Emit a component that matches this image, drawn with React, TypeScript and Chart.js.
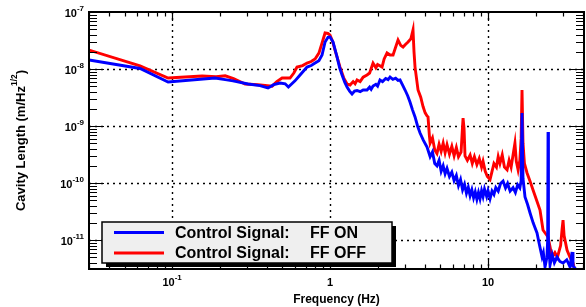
import React, { useEffect, useRef } from 'react';
import { Chart, registerables } from 'chart.js';

Chart.register(...registerables);

// ---- Data (frequency in Hz, amplitude in m/Hz^1/2) ----
const ffOnPoints: number[][] = [
  [0.0298, 1.44e-8], [0.0627, 1.02e-8], [0.0944, 5.9e-9], [0.187, 6.95e-9], [0.217, 6.5e-9],
  [0.243, 6.2e-9], [0.303, 5.45e-9], [0.36, 5.1e-9], [0.405, 4.64e-9], [0.44, 5.3e-9],
  [0.483, 5.68e-9], [0.52, 5.5e-9], [0.545, 4.83e-9], [0.6, 6.2e-9], [0.646, 7.85e-9],
  [0.715, 1.08e-8], [0.76, 1.15e-8], [0.804, 1.27e-8], [0.85, 1.4e-8], [0.89, 1.76e-8],
  [0.93, 2.98e-8], [0.97, 3.6e-8], [1.0, 3.64e-8], [1.045, 2.98e-8], [1.107, 1.63e-8],
  [1.15, 1.05e-8], [1.191, 7.85e-9], [1.24, 5.8e-9], [1.281, 4.83e-9], [1.33, 4.1e-9],
  [1.378, 3.64e-9], [1.43, 4.1e-9], [1.482, 4.2e-9], [1.55, 4.0e-9], [1.62, 4.3e-9],
  [1.714, 4.28e-9], [1.78, 4.8e-9], [1.82, 4.4e-9], [1.871, 5.03e-9], [1.95, 5.4e-9],
  [2.0, 5.0e-9], [2.071, 6.41e-9], [2.15, 6.0e-9], [2.25, 6.8e-9], [2.33, 6.5e-9],
  [2.398, 7.24e-9], [2.5, 6.6e-9], [2.6, 6.9e-9], [2.694, 6.3e-9], [2.773, 6.41e-9],
  [2.88, 5.2e-9], [2.984, 4.28e-9], [3.1, 3.4e-9], [3.206, 2.64e-9], [3.33, 1.9e-9],
  [3.451, 1.44e-9], [3.58, 1.0e-9], [3.713, 7.54e-10], [3.9, 5.6e-10], [4.11, 4.28e-10],
  [4.3, 2.9e-10], [4.45, 3.5e-10], [4.6, 2.2e-10], [4.75, 2.0e-10], [4.9, 2.5e-10],
  [5.05, 1.6e-10], [5.2, 2.0e-10], [5.35, 1.45e-10], [5.5, 1.8e-10], [5.7, 1.3e-10],
  [5.9, 1.55e-10], [6.1, 1.1e-10], [6.3, 1.35e-10], [6.5, 9.0e-11], [6.7, 1.15e-10],
  [6.9, 7.6e-11], [7.1, 9.5e-11], [7.3, 6.6e-11], [7.5, 8.4e-11], [7.7, 6.0e-11],
  [7.9, 7.6e-11], [8.1, 5.5e-11], [8.3, 7.0e-11], [8.5, 5.2e-11], [8.7, 6.8e-11],
  [8.9, 5.3e-11], [9.1, 7.3e-11], [9.3, 5.8e-11], [9.5, 7.8e-11], [9.8, 5.8e-11],
  [10.0, 7.3e-11], [10.3, 5.3e-11], [10.6, 7.2e-11], [10.9, 6.3e-11], [11.2, 8.3e-11],
  [11.6, 7.2e-11], [12.0, 9.8e-11], [12.45, 1.08e-10], [12.9, 8.2e-11], [13.3, 9.8e-11],
  [13.8, 7.2e-11], [14.4, 8.3e-11], [14.9, 6.8e-11], [15.4, 9.3e-11], [15.9, 8.2e-11],
  [16.2, 1.1e-10], [16.41, 1.69e-9], [16.65, 1.2e-10], [17.14, 5.68e-11], [17.8, 4.2e-11],
  [18.45, 2.98e-11], [19.3, 2.0e-11], [20.42, 1.33e-11], [21.2, 8e-12], [21.98, 5.03e-12],
  [22.4, 6e-12], [22.95, 3.36e-12], [23.6, 5e-12], [23.85, 1e-11], [23.98, 7.85e-10],
  [24.12, 1e-11], [24.68, 3.64e-12], [25.5, 5.5e-12], [26.3, 4e-12], [27.33, 5.03e-12],
  [28.5, 4.2e-12], [29.84, 3.94e-12], [31.5, 4.5e-12], [33.04, 3.36e-12], [33.7, 5e-12],
  [34.04, 6.16e-12], [34.5, 3.5e-12], [35.55, 3.2e-12], [36.5, 2.5e-12],
];

const ffOffPoints: number[][] = [
  [0.0298, 2.15e-8], [0.0627, 1.13e-8], [0.0944, 6.95e-9], [0.155, 7.54e-9], [0.19, 7.3e-9],
  [0.217, 7.6e-9], [0.245, 6.8e-9], [0.29, 5.45e-9], [0.35, 5.3e-9], [0.43, 5.0e-9],
  [0.46, 6.0e-9], [0.497, 6.95e-9], [0.558, 6.95e-9], [0.59, 8.5e-9], [0.618, 1.08e-8],
  [0.67, 1.15e-8], [0.715, 1.27e-8], [0.76, 1.35e-8], [0.804, 1.5e-8], [0.85, 1.9e-8],
  [0.89, 2.86e-8], [0.93, 4.28e-8], [0.97, 4.2e-8], [1.0, 3.94e-8], [1.04, 3.0e-8],
  [1.075, 2.15e-8], [1.157, 1.08e-8], [1.22, 7.0e-9], [1.281, 5.45e-9], [1.339, 5.24e-9],
  [1.4, 6.0e-9], [1.44, 5.5e-9], [1.482, 6.41e-9], [1.55, 6.0e-9], [1.62, 7.2e-9],
  [1.714, 7.85e-9], [1.78, 8.5e-9], [1.871, 1.27e-8], [1.95, 1.05e-8], [2.0, 1.2e-8],
  [2.134, 1.08e-8], [2.2, 1.5e-8], [2.295, 1.91e-8], [2.398, 1.76e-8], [2.505, 1.76e-8],
  [2.6, 2.4e-8], [2.694, 3.23e-8], [2.8, 2.6e-8], [2.897, 2.43e-8], [3.0, 2.7e-8],
  [3.117, 2.98e-8], [3.25, 3.4e-8], [3.351, 4.83e-8], [3.4, 2.0e-8], [3.451, 1.08e-8],
  [3.605, 4.28e-9], [3.75, 3.2e-9], [3.878, 2.2e-9], [4.0, 1.7e-9], [4.11, 1.5e-9],
  [4.17, 1.44e-9], [4.25, 7e-10], [4.3, 5.0e-10], [4.45, 6.2e-10], [4.6, 3.8e-10],
  [4.75, 3.3e-10], [4.9, 4.8e-10], [5.05, 3.6e-10], [5.2, 5.0e-10], [5.35, 3.4e-10],
  [5.5, 4.7e-10], [5.7, 3.2e-10], [5.9, 4.4e-10], [6.1, 3.0e-10], [6.3, 4.2e-10],
  [6.5, 2.9e-10], [6.75, 3.5e-10], [6.9, 1.0e-9], [6.95, 1.38e-9], [7.05, 9e-10],
  [7.15, 3.0e-10], [7.4, 2.5e-10], [7.7, 3.1e-10], [7.95, 2.2e-10], [8.2, 2.9e-10],
  [8.5, 2.1e-10], [8.8, 2.7e-10], [9.1, 1.9e-10], [9.3, 2.4e-10], [9.6, 1.6e-10],
  [9.9, 1.3e-10], [10.3, 1.15e-10], [10.6, 1.6e-10], [10.9, 2.2e-10], [11.3, 1.9e-10],
  [11.6, 2.9e-10], [11.9, 2.2e-10], [12.3, 3.1e-10], [12.7, 1.9e-10], [13.2, 1.7e-10],
  [13.6, 2.5e-10], [14.0, 1.9e-10], [14.4, 3.1e-10], [14.8, 5.0e-10], [15.1, 2.4e-10],
  [15.5, 1.7e-10], [15.9, 2.5e-10], [16.2, 6e-10], [16.41, 4.28e-9], [16.65, 5e-10],
  [17.0, 2.2e-10], [17.66, 1.5e-10], [18.4, 1.1e-10], [19.27, 7.54e-11], [20.3, 5e-11],
  [21.33, 3.36e-11], [22.29, 1.5e-11], [23.1, 1.3e-11], [23.98, 1.13e-11], [24.6, 8e-12],
  [25.42, 5.03e-12], [26.5, 6e-12], [27.5, 5e-12], [28.8, 8e-12], [29.4, 1.5e-11],
  [29.84, 2.24e-11], [30.3, 1.2e-11], [31.62, 6.68e-12], [33.0, 5e-12], [34.53, 3.94e-12],
  [35.5, 2.8e-12],
];

const seriesLabels = ['Control Signal:', 'Control Signal:'];
const seriesTags = ['FF ON', 'FF OFF'];
const seriesColors = ['#0000ff', '#ff0000'];

const X_MIN = 0.0298;
const X_MAX = 40.5;
const Y_MIN = 3.1e-12;
const Y_MAX = 1e-7;

// decade labels: [value, base, exponent]
const xTickLabels: [number, string, string][] = [[0.1, '10', '-1'], [1, '1', ''], [10, '10', '']];
const yTickExps = [-7, -8, -9, -10, -11];
const xGridValues = [0.1, 1, 10];
const yGridValues = [1e-8, 1e-9, 1e-10, 1e-11];

const xTitle = 'Frequency (Hz)';
const yTitleMain = 'Cavity Length (m/Hz';
const yTitleSup = '1/2';
const yTitleEnd = ')';

const FONT_FAMILY = '"Liberation Sans", Arial, Helvetica, sans-serif';
const BASE_FONT = `bold 11px ${FONT_FAMILY}`;
const EXP_FONT = `bold 8px ${FONT_FAMILY}`;

function drawPower(ctx: CanvasRenderingContext2D, base: string, exp: string, x: number, y: number, align: 'right' | 'center') {
  ctx.font = BASE_FONT;
  const wb = ctx.measureText(base).width;
  ctx.font = EXP_FONT;
  const we = exp ? ctx.measureText(exp).width : 0;
  const total = wb + we;
  const x0 = align === 'right' ? x - total : x - total / 2;
  ctx.textAlign = 'left';
  ctx.textBaseline = 'middle';
  ctx.font = BASE_FONT;
  ctx.fillText(base, x0, y);
  if (exp) {
    ctx.font = EXP_FONT;
    ctx.fillText(exp, x0 + wb, y - 5);
  }
}

const rootStylePlugin = {
  id: 'rootStyle',
  beforeDatasetsDraw(chart: any) {
    const { ctx, chartArea: a, scales } = chart;
    const xs = scales.x, ys = scales.y;
    ctx.save();
    ctx.strokeStyle = '#000';
    ctx.lineWidth = 1.4;
    ctx.setLineDash([2, 4]);
    for (const v of xGridValues) {
      const px = Math.round(xs.getPixelForValue(v)) + 0.5;
      ctx.beginPath();
      ctx.moveTo(px, a.top);
      ctx.lineTo(px, a.bottom);
      ctx.stroke();
    }
    for (const v of yGridValues) {
      const py = Math.round(ys.getPixelForValue(v)) + 0.5;
      ctx.beginPath();
      ctx.moveTo(a.left, py);
      ctx.lineTo(a.right, py);
      ctx.stroke();
    }
    ctx.restore();
  },
  afterDatasetsDraw(chart: any) {
    const { ctx, chartArea: a, scales } = chart;
    const xs = scales.x, ys = scales.y;
    ctx.save();
    ctx.setLineDash([]);
    ctx.strokeStyle = '#000';
    ctx.fillStyle = '#000';

    // ticks
    ctx.lineWidth = 1.2;
    ctx.beginPath();
    for (let e = -3; e <= 2; e++) {
      for (let m = 1; m <= 9; m++) {
        const v = m * Math.pow(10, e);
        if (v < X_MIN || v > X_MAX) continue;
        const px = Math.round(xs.getPixelForValue(v)) + 0.5;
        const len = m === 1 ? 9 : 4.5;
        ctx.moveTo(px, a.bottom);
        ctx.lineTo(px, a.bottom - len);
        ctx.moveTo(px, a.top);
        ctx.lineTo(px, a.top + len);
      }
    }
    for (let e = -13; e <= -7; e++) {
      for (let m = 1; m <= 9; m++) {
        const v = m * Math.pow(10, e);
        if (v < Y_MIN || v > Y_MAX * 1.0001) continue;
        const py = Math.round(ys.getPixelForValue(v)) + 0.5;
        const len = m === 1 ? 15 : 8;
        ctx.moveTo(a.left, py);
        ctx.lineTo(a.left + len, py);
        ctx.moveTo(a.right, py);
        ctx.lineTo(a.right - len, py);
      }
    }
    ctx.stroke();

    // frame
    ctx.lineWidth = 2;
    ctx.strokeRect(a.left, a.top, a.right - a.left, a.bottom - a.top);

    // tick labels
    for (const e of yTickExps) {
      const py = ys.getPixelForValue(Math.pow(10, e));
      drawPower(ctx, '10', String(e), a.left - 5, py + 2, 'right');
    }
    for (const [v, base, exp] of xTickLabels) {
      const px = xs.getPixelForValue(v);
      drawPower(ctx, base, exp, px, a.bottom + 14, 'center');
    }

    // x title
    ctx.font = `bold 12px ${FONT_FAMILY}`;
    ctx.textAlign = 'center';
    ctx.textBaseline = 'middle';
    ctx.fillText(xTitle, (a.left + a.right) / 2, a.bottom + 31);

    // y title
    ctx.save();
    ctx.translate(21, (a.top + a.bottom) / 2 + 0);
    ctx.rotate(-Math.PI / 2);
    const mainFont = `bold 13px ${FONT_FAMILY}`;
    const supFont = `bold 8.5px ${FONT_FAMILY}`;
    ctx.font = mainFont;
    const w1 = ctx.measureText(yTitleMain).width;
    const w3 = ctx.measureText(yTitleEnd).width;
    ctx.font = supFont;
    const w2 = ctx.measureText(yTitleSup).width;
    const tot = w1 + w2 + w3;
    let tx = -tot / 2;
    ctx.textAlign = 'left';
    ctx.textBaseline = 'middle';
    ctx.font = mainFont;
    ctx.fillText(yTitleMain, tx, 0);
    tx += w1;
    ctx.font = supFont;
    ctx.fillText(yTitleSup, tx, -6);
    tx += w2;
    ctx.font = mainFont;
    ctx.fillText(yTitleEnd, tx, 0);
    ctx.restore();

    // legend
    const lx = a.left + 13, ly = a.bottom - 47, lw = 290, lh = 41;
    ctx.fillStyle = '#000';
    ctx.fillRect(lx + 4, ly + 4, lw, lh);
    ctx.fillStyle = '#efefef';
    ctx.fillRect(lx, ly, lw, lh);
    ctx.lineWidth = 1.5;
    ctx.strokeStyle = '#000';
    ctx.strokeRect(lx, ly, lw, lh);
    const rowY = [ly + 10.5, ly + 31];
    for (let i = 0; i < 2; i++) {
      ctx.strokeStyle = seriesColors[i];
      ctx.lineWidth = 3;
      ctx.beginPath();
      ctx.moveTo(lx + 12, rowY[i]);
      ctx.lineTo(lx + 62, rowY[i]);
      ctx.stroke();
      ctx.fillStyle = '#000';
      ctx.font = `bold 16px ${FONT_FAMILY}`;
      ctx.textAlign = 'left';
      ctx.textBaseline = 'middle';
      ctx.fillText(seriesLabels[i], lx + 73, rowY[i] + 1);
      ctx.fillText(seriesTags[i], lx + 208, rowY[i] + 1);
    }
    ctx.restore();
  },
};

export default function App() {
  const canvasRef = useRef<HTMLCanvasElement | null>(null);

  useEffect(() => {
    document.body.style.margin = '0';
    const canvas = canvasRef.current;
    if (!canvas) return;
    const chart = new Chart(canvas, {
      type: 'scatter',
      data: {
        datasets: [
          {
            label: seriesTags[0],
            data: ffOnPoints.map(([x, y]) => ({ x, y })),
            borderColor: seriesColors[0],
            backgroundColor: seriesColors[0],
            borderWidth: 2.9,
            showLine: true,
            pointRadius: 0,
            tension: 0,
          },
          {
            label: seriesTags[1],
            data: ffOffPoints.map(([x, y]) => ({ x, y })),
            borderColor: seriesColors[1],
            backgroundColor: seriesColors[1],
            borderWidth: 2.9,
            showLine: true,
            pointRadius: 0,
            tension: 0,
          },
        ],
      },
      options: {
        animation: false,
        responsive: false,
        devicePixelRatio: 1,
        layout: { padding: { left: 89, top: 12, right: 2, bottom: 38 } },
        plugins: { legend: { display: false }, tooltip: { enabled: false } },
        scales: {
          x: { type: 'logarithmic', min: X_MIN, max: X_MAX, display: false },
          y: { type: 'logarithmic', min: Y_MIN, max: Y_MAX, display: false },
        },
      },
      plugins: [rootStylePlugin],
    } as any);
    return () => chart.destroy();
  }, []);

  return (
    <div style={{ width: 586, height: 307, background: '#fff' }}>
      <canvas ref={canvasRef} width={586} height={307} style={{ display: 'block', width: 586, height: 307 }} />
    </div>
  );
}
